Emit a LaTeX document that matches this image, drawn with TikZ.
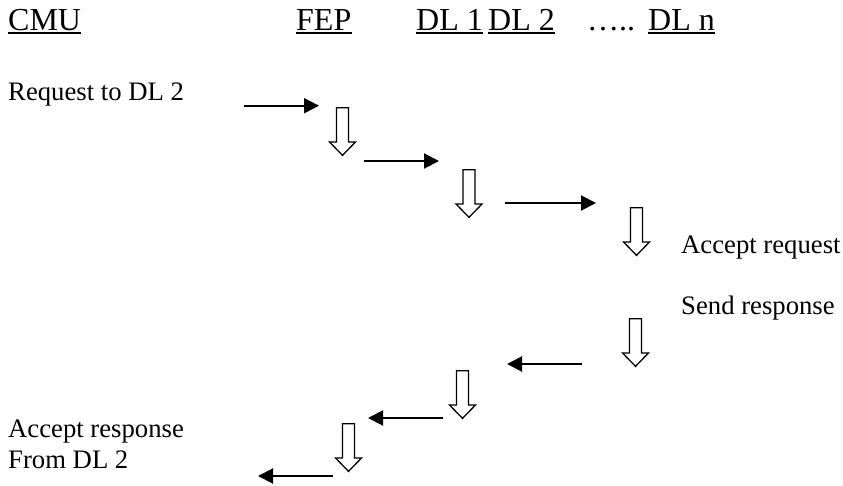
\documentclass[tikz,border=0pt]{standalone}
\usepackage{fontspec}
\setmainfont{Liberation Serif}
\usetikzlibrary{arrows.meta,calc}
\begin{document}
\begin{tikzpicture}[x=1pt,y=-1pt,
  hdr/.style={anchor=base west, inner sep=0pt, font=\fontsize{32}{38}\selectfont},
  lbl/.style={anchor=base west, inner sep=0pt, font=\fontsize{26.7}{31}\selectfont},
  ul/.style={line width=2pt},
  msg/.style={line width=2pt, -{Triangle[length=15pt,width=15pt]}},
  blk/.pic={\draw[line width=1.3pt, fill=white] (-6,0.65) -- (6,0.65) -- (6,35) -- (13,35) -- (0,48.35) -- (-13,35) -- (-6,35) -- cycle;}
]
\useasboundingbox (0,0) rectangle (843,485);
% header
\node[hdr] (cmu) at (8,30) {CMU};
\node[hdr] (fep) at (296,30) {FEP};
\node[hdr] (dl1) at (416,30) {DL 1};
\node[hdr] (dl2) at (488,30) {DL 2};
\node[hdr] (dots) at (587,30) {…..};
\node[hdr] (dln) at (648,30) {DL n};
\foreach \n in {cmu,fep,dl1,dl2,dln}
  \draw[ul] ($(\n.base west)+(0,3.3)$) -- ($(\n.base east)+(0,3.3)$);
% labels
\node[lbl] (req) at (8,100) {Request to DL 2};
\node[lbl] (accreq) at (681,253) {Accept request};
\node[lbl] (sendresp) at (681,314) {Send response};
\node[lbl] (accresp) at (8,437) {Accept response};
\node[lbl] (fromdl) at (8,468) {From DL 2};
% block arrows
\pic at (342.5,107) {blk};
\pic at (469,169) {blk};
\pic at (636.5,207) {blk};
\pic at (635.5,318) {blk};
\pic at (462.5,370) {blk};
\pic at (348.5,423) {blk};
% message arrows
\coordinate (a1s) at (244,105.7); \coordinate (a1e) at (319,105.7);
\coordinate (a2s) at (364,161);   \coordinate (a2e) at (439,161);
\coordinate (a3s) at (505,203);   \coordinate (a3e) at (596,203);
\coordinate (a4s) at (582,364);   \coordinate (a4e) at (507,364);
\coordinate (a5s) at (443,418);   \coordinate (a5e) at (368,418);
\coordinate (a6s) at (333,476);   \coordinate (a6e) at (258,476);
\foreach \i in {1,...,6}
  \draw[msg] (a\i s) -- (a\i e);
\end{tikzpicture}
\end{document}
